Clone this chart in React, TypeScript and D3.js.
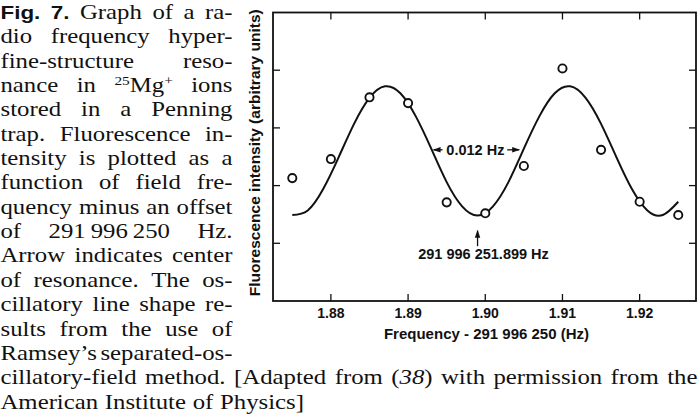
import React, { useEffect, useRef } from 'react';
import * as d3 from 'd3';

// Measured data points (frequency - 291 996 250 Hz, fluorescence in arbitrary units)
const freqs = [1.875, 1.88, 1.885, 1.89, 1.895, 1.9, 1.905, 1.91, 1.915, 1.92, 1.925];
const intensities = [2.13, 2.46, 3.53, 3.43, 1.71, 1.52, 2.34, 4.03, 2.62, 1.72, 1.49];

// Fitted Ramsey line shape
const fitFreqs = [
  1.875, 1.877, 1.879, 1.881, 1.883, 1.885, 1.887, 1.889, 1.891, 1.893, 1.895, 1.897, 1.899,
  1.901, 1.903, 1.905, 1.907, 1.909, 1.911, 1.913, 1.915, 1.917, 1.919, 1.921, 1.923, 1.925,
];
const fitValues = [
  1.49, 1.57, 1.94, 2.49, 3.07, 3.52, 3.72, 3.6, 3.2, 2.64, 2.06, 1.64, 1.48,
  1.64, 2.06, 2.64, 3.2, 3.6, 3.72, 3.52, 3.07, 2.49, 1.94, 1.57, 1.49, 1.72,
];

const xTicks = [1.88, 1.89, 1.9, 1.91, 1.92];
const yTicks = [1, 2, 3, 4];
const xDomain = [1.8725, 1.9273];
const yDomain = [0, 5];

const widthLabel = '0.012 Hz';
const widthLeft = 1.8933;
const widthRight = 1.9044;
const widthLevel = 2.62;
const centerFreq = 1.899;
const centerLabel = '291 996 251.899 Hz';

const xTitle = 'Frequency - 291 996 250 (Hz)';
const yTitle = 'Fluorescence intensity (arbitrary units)';

type Seg = { t: string; sup?: boolean; it?: boolean; sans?: boolean };
type Word = Seg[];
const w = (s: string): Word => [{ t: s }];

const captionLines: { words: Word[]; full?: boolean; last?: boolean }[] = [
  { words: [[{ t: 'Fig.', sans: true }], [{ t: '7.', sans: true }], w('Graph'), w('of'), w('a'), w('ra-')] },
  { words: [w('dio'), w('frequency'), w('hyper-')] },
  { words: [w('fine-structure'), w('reso-')] },
  { words: [w('nance'), w('in'), [{ t: '25', sup: true }, { t: 'Mg' }, { t: '+', sup: true }], w('ions')] },
  { words: [w('stored'), w('in'), w('a'), w('Penning')] },
  { words: [w('trap.'), w('Fluorescence'), w('in-')] },
  { words: [w('tensity'), w('is'), w('plotted'), w('as'), w('a')] },
  { words: [w('function'), w('of'), w('field'), w('fre-')] },
  { words: [w('quency'), w('minus'), w('an'), w('offset')] },
  { words: [w('of'), w('291\u2009996\u2009250'), w('Hz.')] },
  { words: [w('Arrow'), w('indicates'), w('center')] },
  { words: [w('of'), w('resonance.'), w('The'), w('os-')] },
  { words: [w('cillatory'), w('line'), w('shape'), w('re-')] },
  { words: [w('sults'), w('from'), w('the'), w('use'), w('of')] },
  { words: [w('Ramsey\u2019s'), w('separated-os-')] },
  {
    words: [
      w('cillatory-field'), w('method.'), w('[Adapted'), w('from'),
      [{ t: '(' }, { t: '38', it: true }, { t: ')' }], w('with'), w('permission'), w('from'), w('the'),
    ],
    full: true,
  },
  { words: [w('American'), w('Institute'), w('of'), w('Physics]')], last: true },
];

const W = 700;
const H = 414;
const plot = { left: 273, right: 696, top: 12.5, bottom: 301 };

export default function App() {
  const capRef = useRef<SVGGElement>(null);

  const x = d3.scaleLinear().domain(xDomain).range([plot.left, plot.right]);
  const y = d3.scaleLinear().domain(yDomain).range([plot.bottom, plot.top]);

  const pts = fitFreqs.map((f, i) => [f, fitValues[i]] as [number, number]);
  const line = d3
    .line<[number, number]>()
    .x((d) => x(d[0]))
    .y((d) => y(d[1]))
    .curve(d3.curveNatural);

  useEffect(() => {
    const SX = 1.18;
    const FS = 21;
    const g = d3.select(capRef.current);
    g.selectAll('*').remove();
    g.attr('transform', `scale(${SX},1)`);
    const y0 = 19;
    const lh = 24.35;
    captionLines.forEach((ln, i) => {
      const yb = y0 + i * lh;
      const target = (ln.full ? 697 : 232) / SX;
      const nodes = ln.words.map((word) => {
        const t = g
          .append('text')
          .attr('y', yb)
          .attr('font-family', '"Liberation Serif", "Times New Roman", serif')
          .attr('font-size', FS)
          .attr('fill', '#111');
        word.forEach((s) => {
          const ts = t.append('tspan').text(s.t);
          if (s.sans) ts.attr('font-family', '"Liberation Sans", Arial, sans-serif').attr('font-weight', 'bold').attr('font-size', 19);
          if (s.it) ts.attr('font-style', 'italic');
          if (s.sup) ts.attr('font-size', 13).attr('baseline-shift', '7');
        });
        return t;
      });
      const widths = nodes.map((n) => (n.node() as SVGTextElement).getComputedTextLength());
      const sum = d3.sum(widths);
      const n = nodes.length;
      const gap = ln.last || n < 2 ? FS * 0.27 : (target - sum) / (n - 1);
      let cx = 0.5 / SX;
      nodes.forEach((nd, k) => {
        nd.attr('x', cx);
        cx += widths[k] + gap;
      });
    });
  }, []);

  const sans = '"Liberation Sans", Arial, Helvetica, sans-serif';
  const tickLen = 7;

  return (
    <svg
      width={W}
      height={H}
      viewBox={`0 0 ${W} ${H}`}
      style={{ position: 'absolute', left: 0, top: 0, background: '#fff' }}
    >
      <rect x={0} y={0} width={W} height={H} fill="#fff" />
      <g ref={capRef} />

      {/* frame */}
      <rect
        x={plot.left}
        y={plot.top}
        width={plot.right - plot.left}
        height={plot.bottom - plot.top}
        fill="none"
        stroke="#111"
        strokeWidth={1.8}
      />
      {/* x ticks */}
      {xTicks.map((t) => (
        <g key={'xt' + t}>
          <line x1={x(t)} x2={x(t)} y1={plot.bottom} y2={plot.bottom - tickLen} stroke="#111" strokeWidth={1.3} />
          <line x1={x(t)} x2={x(t)} y1={plot.top} y2={plot.top + tickLen} stroke="#111" strokeWidth={1.3} />
          <text x={x(t)} y={318} textAnchor="middle" fontFamily={sans} fontWeight="bold" fontSize={14} fill="#111">
            {d3.format('.2f')(t)}
          </text>
        </g>
      ))}
      {/* y ticks */}
      {yTicks.map((t) => (
        <g key={'yt' + t}>
          <line x1={plot.left} x2={plot.left + tickLen} y1={y(t)} y2={y(t)} stroke="#111" strokeWidth={1.3} />
          <line x1={plot.right} x2={plot.right - tickLen} y1={y(t)} y2={y(t)} stroke="#111" strokeWidth={1.3} />
        </g>
      ))}

      {/* fit curve */}
      <path d={line(pts) || ''} fill="none" stroke="#111" strokeWidth={2} />

      {/* data points */}
      {freqs.map((f, i) => (
        <circle key={'p' + i} cx={x(f)} cy={y(intensities[i])} r={4.1} fill="#fff" stroke="#111" strokeWidth={1.9} />
      ))}

      {/* width annotation */}
      <defs>
        <marker id="ah" viewBox="0 0 10 10" refX={9} refY={5} markerWidth={6} markerHeight={6} orient="auto-start-reverse">
          <path d="M0,1.5 L10,5 L0,8.5 z" fill="#111" />
        </marker>
      </defs>
      <line x1={x(widthLeft) + 9} x2={x(widthLeft)} y1={y(widthLevel)} y2={y(widthLevel)} stroke="#111" strokeWidth={1.3} markerEnd="url(#ah)" />
      <line x1={x(widthRight) - 12} x2={x(widthRight)} y1={y(widthLevel)} y2={y(widthLevel)} stroke="#111" strokeWidth={1.3} markerEnd="url(#ah)" />
      <text
        x={(x(widthLeft) + x(widthRight)) / 2 - 1}
        y={y(widthLevel) + 5}
        textAnchor="middle"
        fontFamily={sans}
        fontWeight="bold"
        fontSize={14.5}
        fill="#111"
      >
        {widthLabel}
      </text>

      {/* center arrow */}
      <line x1={x(centerFreq)} x2={x(centerFreq)} y1={y(0.95)} y2={y(1.22)} stroke="#111" strokeWidth={1.3} markerEnd="url(#ah)" />
      <text x={x(centerFreq) + 6} y={259} textAnchor="middle" fontFamily={sans} fontWeight="bold" fontSize={14.5} fill="#111">
        {centerLabel}
      </text>

      {/* axis titles */}
      <text x={(plot.left + plot.right) / 2 + 2} y={339} textAnchor="middle" fontFamily={sans} fontWeight="bold" fontSize={15} fill="#111">
        {xTitle}
      </text>
      <text
        transform={`translate(260,${(plot.top + plot.bottom) / 2 - 4}) rotate(-90)`}
        textAnchor="middle"
        fontFamily={sans}
        fontWeight="bold"
        fontSize={15.5}
        fill="#111"
      >
        {yTitle}
      </text>
    </svg>
  );
}
